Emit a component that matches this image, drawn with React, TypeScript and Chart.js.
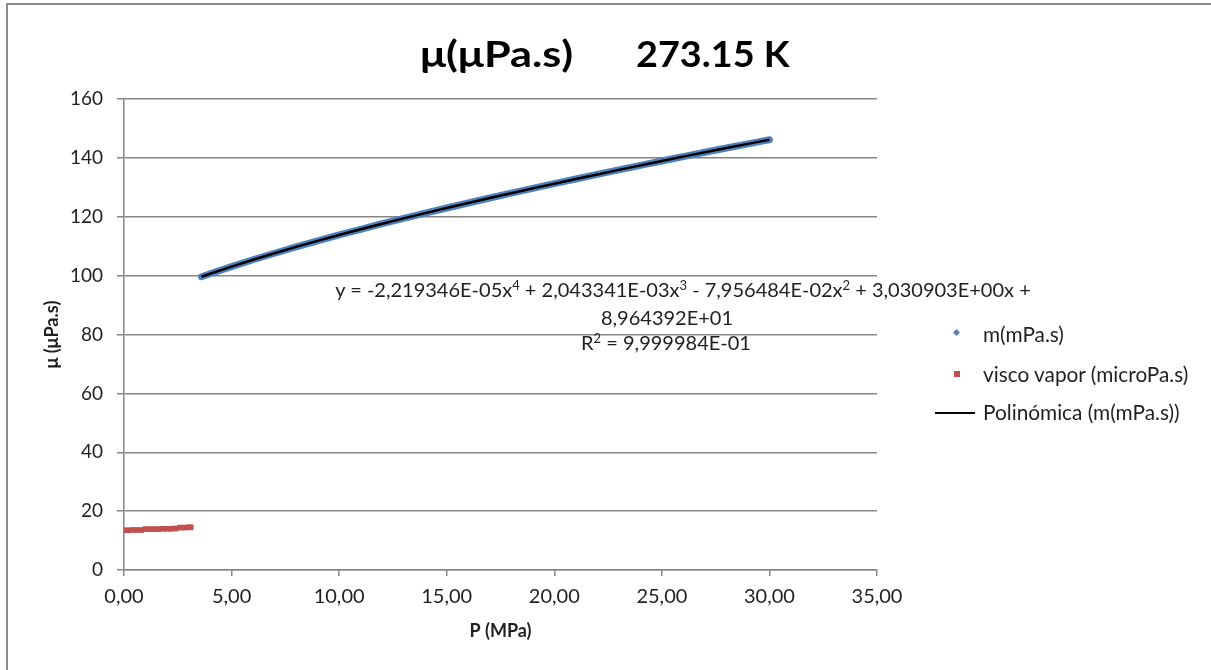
import React, { useEffect, useRef } from 'react';
import { Chart, registerables } from 'chart.js';

Chart.register(...registerables);

// ---- data ----
const titleLeft = 'μ(μPa.s)';
const titleRight = '273.15 K';
const xTitle = 'P (MPa)';
const yTitle = 'μ (μPa.s)';

const xMin = 0;
const xMax = 35;
const xStep = 5;
const yMin = 0;
const yMax = 160;
const yStep = 20;

// m(mPa.s) series (pressure MPa, viscosity)
const liquidP = [3.6, 4, 5, 6, 7, 8, 9, 10, 11, 12, 13, 14, 15, 16, 17, 18, 19, 20, 21, 22, 23, 24, 25, 26, 27, 28, 29, 30];
const liquidMu = [99.62, 100.62, 103.05, 105.38, 107.61, 109.75, 111.82, 113.82, 115.75, 117.63, 119.45, 121.24, 122.98, 124.68, 126.36, 128.01, 129.63, 131.23, 132.81, 134.37, 135.92, 137.44, 138.95, 140.43, 141.9, 143.34, 144.76, 146.16];

// Polynomial trend line of m(mPa.s)
const trendP = [3.6, 4, 5, 6, 7, 8, 9, 10, 11, 12, 13, 14, 15, 16, 17, 18, 19, 20, 21, 22, 23, 24, 25, 26, 27, 28, 29, 30];
const trendMu = [99.62, 100.62, 103.05, 105.38, 107.61, 109.75, 111.82, 113.82, 115.75, 117.63, 119.45, 121.24, 122.98, 124.68, 126.36, 128.01, 129.63, 131.23, 132.81, 134.37, 135.92, 137.44, 138.95, 140.43, 141.9, 143.34, 144.76, 146.16];

// visco vapor (microPa.s)
const vaporP = [0.0, 0.2, 0.4, 0.6, 0.8, 1.0, 1.2, 1.4, 1.6, 1.8, 2.0, 2.2, 2.4, 2.6, 2.8, 3.0, 3.1];
const vaporMu = [13.5, 13.5, 13.6, 13.6, 13.6, 13.9, 13.9, 13.9, 13.9, 14.0, 14.0, 14.0, 14.1, 14.4, 14.4, 14.5, 14.5];

const legendLabels = ['m(mPa.s)', 'visco vapor (microPa.s)', 'Polinómica (m(mPa.s))'];
const eqLine2 = '8,964392E+01';

const BLUE = '#4F81BD';
const RED = '#C0504D';
const GRID = '#868686';
const TEXT = '#1f1f1f';
const FONT = 'Lato, "Open Sans", sans-serif';

export default function App() {
  const ref = useRef<HTMLCanvasElement | null>(null);

  useEffect(() => {
    if (!ref.current) return;
    const chart = new Chart(ref.current, {
      type: 'scatter',
      data: {
        datasets: [
          {
            label: legendLabels[2],
            data: trendP.map((x, i) => ({ x, y: trendMu[i] })),
            showLine: true,
            borderColor: '#000000',
            borderWidth: 2.5,
            pointRadius: 0,
            cubicInterpolationMode: 'monotone',
            order: 1,
          },
          {
            label: legendLabels[0],
            data: liquidP.map((x, i) => ({ x, y: liquidMu[i] })),
            showLine: true,
            borderColor: BLUE,
            backgroundColor: BLUE,
            borderWidth: 7,
            borderCapStyle: 'round',
            borderJoinStyle: 'round',
            pointRadius: 0,
            cubicInterpolationMode: 'monotone',
            order: 2,
          },
          {
            label: legendLabels[1],
            data: vaporP.map((x, i) => ({ x, y: vaporMu[i] })),
            backgroundColor: RED,
            borderColor: RED,
            borderWidth: 0,
            pointStyle: 'rect',
            pointRadius: 4,
            order: 3,
          },
        ],
      },
      options: {
        animation: false,
        responsive: false,
        maintainAspectRatio: false,
        events: [],
        layout: { padding: { left: 20, top: 99, right: 334, bottom: 0 } },
        plugins: {
          legend: { display: false },
          title: { display: false },
          tooltip: { enabled: false },
        },
        scales: {
          x: {
            type: 'linear',
            min: xMin,
            max: xMax,
            ticks: {
              stepSize: xStep,
              maxRotation: 0,
              padding: 9,
              color: TEXT,
              font: { family: FONT, size: 20 },
              callback: (v: any) => Number(v).toFixed(2).replace('.', ','),
            },
            grid: { drawOnChartArea: false, drawTicks: true, tickLength: 6, color: GRID, lineWidth: 1.5 },
            border: { color: GRID, width: 1.5 },
            title: {
              display: true,
              text: xTitle,
              color: TEXT,
              font: { family: FONT, size: 18, weight: 'bold' },
              padding: { top: 0, bottom: 28 },
            },
            afterFit: (s: any) => {
              s.height = 100;
            },
          },
          y: {
            type: 'linear',
            min: yMin,
            max: yMax,
            ticks: {
              stepSize: yStep,
              padding: 14,
              color: TEXT,
              font: { family: FONT, size: 19 },
            },
            grid: { color: GRID, lineWidth: 1.5, tickLength: 7 },
            border: { color: GRID, width: 1.5 },
            title: {
              display: true,
              text: yTitle,
              color: TEXT,
              font: { family: FONT, size: 18, weight: 'bold' },
              padding: { top: 21, bottom: 0 },
            },
            afterFit: (s: any) => {
              s.width = 104;
            },
          },
        },
      },
    } as any);
    return () => chart.destroy();
  }, []);

  const eqStyle: React.CSSProperties = {
    position: 'absolute',
    width: 800,
    textAlign: 'center',
    fontFamily: FONT,
    fontSize: 20,
    lineHeight: '22px',
    color: TEXT,
    whiteSpace: 'pre',
  };
  const legendText: React.CSSProperties = {
    position: 'absolute',
    left: 983,
    fontFamily: FONT,
    fontSize: 20.8,
    lineHeight: '24px',
    color: TEXT,
    whiteSpace: 'pre',
  };
  const supStyle: React.CSSProperties = { fontSize: '0.65em', verticalAlign: '0.55em', lineHeight: 0 };

  return (
    <div style={{ position: 'fixed', left: 0, top: 0, width: 1211, height: 670, overflow: 'hidden', background: '#ffffff' }}>
      <div
        style={{
          position: 'absolute',
          left: 6,
          top: 3,
          width: 1300,
          height: 800,
          border: '2px solid #8a8a8a',
          boxSizing: 'border-box',
        }}
      />
      <canvas ref={ref} width={1211} height={670} style={{ position: 'absolute', left: 0, top: 0, width: 1211, height: 670 }} />
      <div
        style={{
          position: 'absolute',
          left: 0,
          top: 32,
          width: 1211,
          height: 44,
          fontFamily: FONT,
          fontWeight: 'bold',
          fontSize: 36,
          lineHeight: '42px',
          color: '#000',
          whiteSpace: 'pre',
        }}
      >
        <span style={{ position: 'absolute', left: 420, display: 'inline-block', transform: 'scaleX(1.2)', transformOrigin: 'left center' }}>
          {titleLeft}
        </span>
        <span style={{ position: 'absolute', left: 636, display: 'inline-block', transform: 'scaleX(1.05)', transformOrigin: 'left center' }}>
          {titleRight}
        </span>
      </div>
      <div style={{ ...eqStyle, left: 683 - 400, top: 278 }}>
        y = -2,219346E-05x<span style={supStyle}>4</span> + 2,043341E-03x<span style={supStyle}>3</span> - 7,956484E-02x
        <span style={supStyle}>2</span> + 3,030903E+00x +
      </div>
      <div style={{ ...eqStyle, left: 667 - 400, top: 306 }}>{eqLine2}</div>
      <div style={{ ...eqStyle, left: 666 - 400, top: 331 }}>
        R<span style={supStyle}>2</span> = 9,999984E-01
      </div>

      <div style={{ position: 'absolute', left: 954, top: 330, width: 5, height: 5, background: BLUE, transform: 'rotate(45deg)' }} />
      <div style={{ ...legendText, top: 322 }}>{legendLabels[0]}</div>
      <div style={{ position: 'absolute', left: 954, top: 371, width: 6, height: 6, background: RED }} />
      <div style={{ ...legendText, top: 362 }}>{legendLabels[1]}</div>
      <div style={{ position: 'absolute', left: 935, top: 412, width: 40, height: 2, background: '#000' }} />
      <div style={{ ...legendText, top: 400 }}>{legendLabels[2]}</div>
    </div>
  );
}
